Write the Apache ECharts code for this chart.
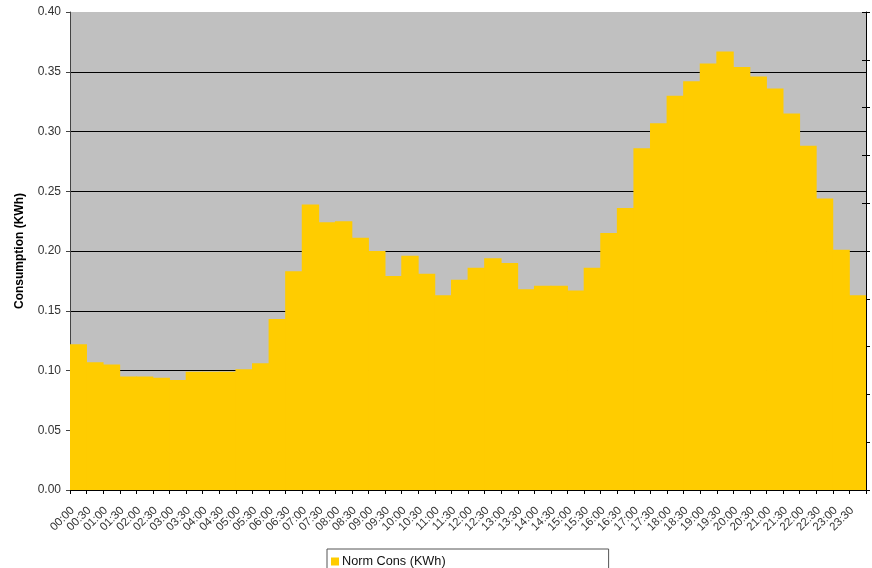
<!DOCTYPE html>
<html>
<head>
<meta charset="utf-8">
<script src="https://cdn.jsdelivr.net/npm/echarts@6/dist/echarts.min.js"></script>
<style>
  html, body { margin: 0; padding: 0; background: #fff; }
  #chart { width: 872px; height: 568px; }
</style>
</head>
<body>
<div id="chart"></div>
<script>
// half-hour slots
const timeSlots = [
  '00:00', '00:30', '01:00', '01:30', '02:00', '02:30', '03:00', '03:30',
  '04:00', '04:30', '05:00', '05:30', '06:00', '06:30', '07:00', '07:30',
  '08:00', '08:30', '09:00', '09:30', '10:00', '10:30', '11:00', '11:30',
  '12:00', '12:30', '13:00', '13:30', '14:00', '14:30', '15:00', '15:30',
  '16:00', '16:30', '17:00', '17:30', '18:00', '18:30', '19:00', '19:30',
  '20:00', '20:30', '21:00', '21:30', '22:00', '22:30', '23:00', '23:30'
];

const normCons = [
  0.122, 0.107, 0.105, 0.095, 0.095, 0.094, 0.092, 0.099,
  0.099, 0.099, 0.101, 0.106, 0.143, 0.183, 0.239, 0.224,
  0.225, 0.211, 0.200, 0.179, 0.196, 0.181, 0.163, 0.176,
  0.186, 0.194, 0.190, 0.168, 0.171, 0.171, 0.167, 0.186,
  0.215, 0.236, 0.286, 0.307, 0.330, 0.342, 0.357, 0.367,
  0.354, 0.346, 0.336, 0.315, 0.288, 0.244, 0.201, 0.163
];

const seriesName = 'Norm Cons (KWh)';
const yAxisName = 'Consumption (KWh)';

const chart = echarts.init(document.getElementById('chart'));

const textColor = '#333';
const font = 'Arial, "Liberation Sans", sans-serif';

chart.setOption({
  animation: false,
  backgroundColor: '#fff',
  textStyle: { fontFamily: font },
  grid: {
    left: 70, right: 6, top: 12, bottom: 78,
    show: true,
    backgroundColor: '#C0C0C0',
    borderWidth: 0
  },
  legend: {
    data: [seriesName],
    left: 327,
    top: 549,
    orient: 'horizontal',
    icon: 'rect',
    itemWidth: 8,
    itemHeight: 8,
    itemGap: 0,
    padding: [6, 163, 6, 4],
    borderColor: '#555',
    borderWidth: 1,
    textStyle: { color: '#111', fontSize: 12.7, fontFamily: font, padding: [0, 0, 0, -2] }
  },
  xAxis: {
    type: 'category',
    data: timeSlots,
    axisLine: { lineStyle: { color: '#000', width: 1 } },
    axisTick: { show: true, length: 4, lineStyle: { color: '#000' } },
    axisLabel: {
      interval: 0,
      rotate: 45,
      margin: 13,
      padding: [0, 8, 0, 0],
      color: textColor,
      fontSize: 11.5,
      fontFamily: font
    },
    splitLine: { show: false }
  },
  yAxis: [
    {
      type: 'value',
      min: 0,
      max: 0.4,
      interval: 0.05,
      name: yAxisName,
      nameLocation: 'middle',
      nameGap: 44,
      nameTextStyle: { color: '#000', fontSize: 12, fontWeight: 'bold', fontFamily: font },
      axisLine: { show: true, lineStyle: { color: '#444', width: 1 } },
      axisTick: { show: true, length: 4, lineStyle: { color: '#444' } },
      axisLabel: {
        color: textColor,
        fontSize: 12,
        fontFamily: font,
        margin: 9,
        formatter: v => v.toFixed(2)
      },
      splitLine: { show: true, showMaxLine: false, lineStyle: { color: '#000', width: 1 } }
    },
    {
      // right axis, inner half of the ticks
      type: 'value',
      position: 'right',
      min: 0,
      max: 0.4,
      interval: 0.04,
      axisLine: { show: true, lineStyle: { color: '#000', width: 1 } },
      axisTick: { show: true, inside: true, length: 4, lineStyle: { color: '#000' } },
      axisLabel: { show: false },
      splitLine: { show: false }
    },
    {
      // right axis, outer half of the ticks
      type: 'value',
      position: 'right',
      min: 0,
      max: 0.4,
      interval: 0.04,
      axisLine: { show: false },
      axisTick: { show: true, inside: false, length: 4, lineStyle: { color: '#000' } },
      axisLabel: { show: false },
      splitLine: { show: false }
    }
  ],
  series: [{
    name: seriesName,
    type: 'bar',
    data: normCons,
    yAxisIndex: 0,
    barWidth: 17.4, // a touch wider than the slot so neighbours overlap, no seams
    itemStyle: { color: '#FFCC00' },
    emphasis: { disabled: true }
  }]
});
</script>
</body>
</html>
